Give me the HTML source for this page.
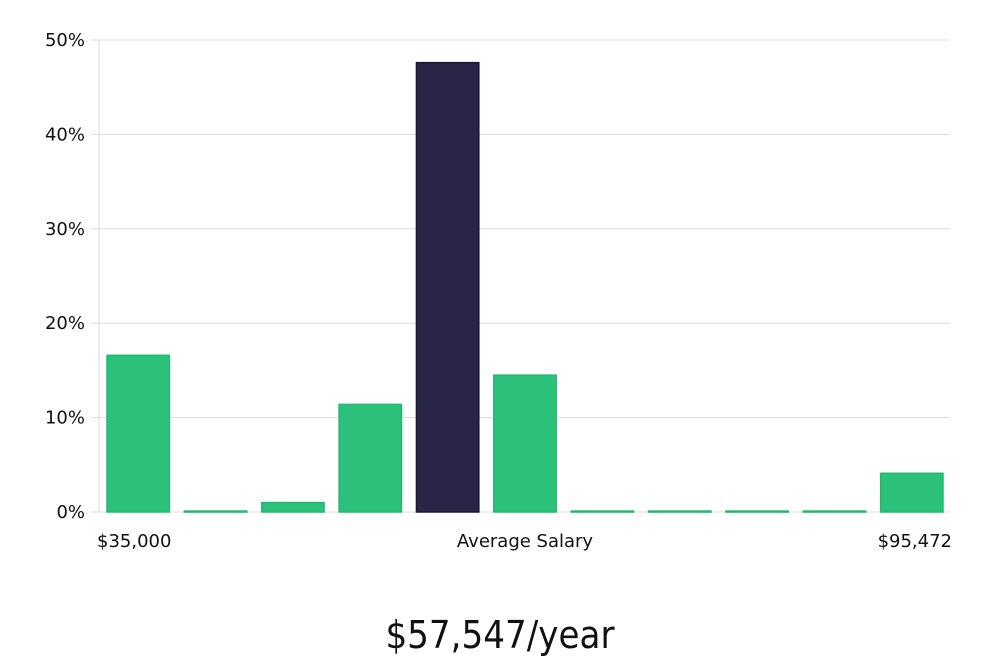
<!DOCTYPE html>
<html><head><meta charset="utf-8"><style>
html,body{margin:0;padding:0;background:#fff;}
svg{display:block;font-family:"DejaVu Sans","Liberation Sans",sans-serif;}
</style></head><body>
<svg id="chart" width="1000" height="660">
<g id="grid"></g><g id="bars"></g><g id="ylabels"></g>
<line x1="99" y1="40" x2="99" y2="512" stroke="#d8d8d8" stroke-width="1"/>
<text x="97" y="547" font-size="18" fill="#111">$35,000</text>
<text x="525" y="547" font-size="18" fill="#111" text-anchor="middle">Average Salary</text>
<text x="952" y="547" font-size="18" fill="#111" text-anchor="end">$95,472</text>
<text x="500" y="648" font-size="38" fill="#111" text-anchor="middle" font-family="'DejaVu Sans Condensed','Liberation Sans Narrow','Liberation Sans',sans-serif" font-weight="300">$57,547/year</text>
</svg>
<script>
const categories = ["b1","b2","b3","b4","b5","b6","b7","b8","b9","b10","b11"];
const values = [16.6, 0.1, 1.0, 11.4, 47.6, 14.5, 0.1, 0.1, 0.1, 0.1, 4.1];
const highlight = [false,false,false,false,true,false,false,false,false,false,false];
const yTicks = [0,10,20,30,40,50];
const yTickLabels = ["0%","10%","20%","30%","40%","50%"];
const NS="http://www.w3.org/2000/svg";
const x0=99,x1=950,y0=512,yTop=40,yMax=50;
const ys=v=>y0-(v/yMax)*(y0-yTop);
const slot=(x1-x0)/categories.length;
const grid=document.getElementById('grid'),bars=document.getElementById('bars'),yl=document.getElementById('ylabels');
yTicks.forEach((t,i)=>{
  const l=document.createElementNS(NS,'line');
  l.setAttribute('x1',i===0?91:91);l.setAttribute('x2',x1);
  l.setAttribute('y1',ys(t));l.setAttribute('y2',ys(t));
  l.setAttribute('stroke','#dcdcdc');l.setAttribute('stroke-width','1');
  
  
  grid.appendChild(l);
  const tx=document.createElementNS(NS,'text');
  tx.setAttribute('x',85);tx.setAttribute('y',ys(t)+6);
  tx.setAttribute('text-anchor','end');tx.setAttribute('font-size','18');tx.setAttribute('fill','#111');
  tx.textContent=yTickLabels[i];
  
  
  yl.appendChild(tx);
});
values.forEach((v,i)=>{
  const r=document.createElementNS(NS,'rect');
  const bx=x0+i*slot+8, bw=slot-15;
  const top=ys(v);
  r.setAttribute('x',bx);r.setAttribute('y',top);r.setAttribute('width',bw);r.setAttribute('height',Math.max(1,y0-top));
  r.setAttribute('fill',highlight[i]?'#292546':'#2bc17a');
  r.setAttribute('stroke',highlight[i]?'#1a1735':'#22b86e');r.setAttribute('stroke-width','1.5');
  
  
  bars.appendChild(r);
});
</script>
</body></html>
